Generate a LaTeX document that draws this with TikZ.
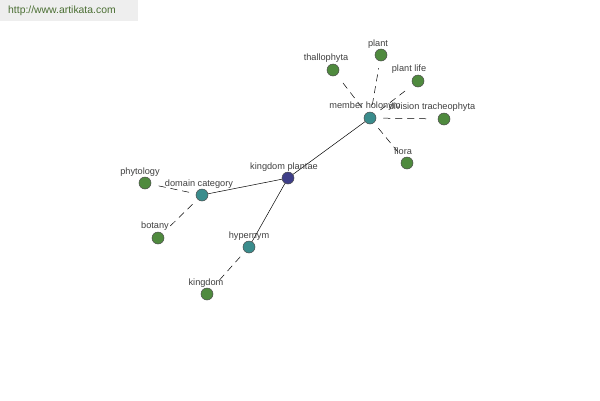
\documentclass[tikz,border=0pt]{standalone}
\usepackage{fontspec}
\setmainfont{Liberation Sans}
\definecolor{leafc}{HTML}{4F8A3E}
\definecolor{midc}{HTML}{3A8C8C}
\definecolor{hubc}{HTML}{3E3E88}
\definecolor{txtc}{HTML}{404040}
\definecolor{wmbg}{HTML}{EEEEEE}
\definecolor{wmtx}{HTML}{4A6E32}
\tikzset{
  dot/.style={circle,draw=black!70,line width=0.5pt,minimum size=12pt,inner sep=0pt},
  leaf/.style={dot,fill=leafc},
  mid/.style={dot,fill=midc},
  hub/.style={dot,fill=hubc},
  lbl/.style={text=txtc,font=\fontsize{9.2}{10}\selectfont,inner sep=0pt},
  solidedge/.style={draw=black,line width=0.5pt},
  dashedge/.style={draw=black,line width=0.5pt,dash pattern=on 7pt off 5pt,shorten <=7pt,shorten >=7pt}
}
\begin{document}
\begin{tikzpicture}[x=1pt,y=-1pt]
\useasboundingbox (0,0) rectangle (600,400);
\fill[white] (0,0) rectangle (600,400);
\fill[wmbg] (0,0) rectangle (138,21);
\node[text=wmtx,font=\fontsize{10.4}{11}\selectfont,anchor=west,inner sep=0pt] (wm) at (8,11) {http://www.artikata.com};
% nodes
\node[hub] (kp) at (288,178) {};
\node[mid] (mh) at (370,118) {};
\node[mid] (dc) at (202,195) {};
\node[mid] (hy) at (249,247) {};
\node[leaf] (th) at (333,70) {};
\node[leaf] (pl) at (381,55) {};
\node[leaf] (pli) at (418,81) {};
\node[leaf] (dt) at (444,119) {};
\node[leaf] (fl) at (407,163) {};
\node[leaf] (ph) at (145,183) {};
\node[leaf] (bo) at (158,238) {};
\node[leaf] (ki) at (207,294) {};
% edges
\draw[solidedge] (kp) -- (mh);
\draw[solidedge] (kp) -- (dc);
\draw[solidedge] (kp) -- (hy);
\draw[dashedge] (mh) -- (th);
\draw[dashedge] (mh) -- (pl);
\draw[dashedge] (mh) -- (pli);
\draw[dashedge] (mh) -- (dt);
\draw[dashedge] (mh) -- (fl);
\draw[dashedge] (dc) -- (ph);
\draw[dashedge] (dc) -- (bo);
\draw[dashedge] (hy) -- (ki);
% labels
\node[lbl] (lkp) at (284,167) {kingdom plantae};
\node[lbl] (lmh) at (365,106) {member holonym};
\node[lbl] (ldc) at (199,184) {domain category};
\node[lbl] (lhy) at (249,236) {hypernym};
\node[lbl] (lth) at (326,58) {thallophyta};
\node[lbl] (lpl) at (378,44) {plant};
\node[lbl] (lpli) at (409,69) {plant life};
\node[lbl] (ldt) at (432,107) {division tracheophyta};
\node[lbl] (lfl) at (403,151) {flora};
\node[lbl] (lph) at (140,172) {phytology};
\node[lbl] (lbo) at (155,226) {botany};
\node[lbl] (lki) at (206,283) {kingdom};
\end{tikzpicture}
\end{document}
